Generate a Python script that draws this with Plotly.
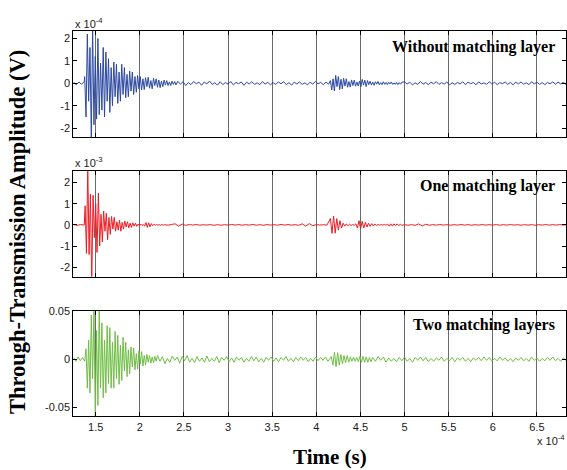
import plotly.graph_objects as go

# ---------------- data (time in units of 1e-4 s) ----------------
# Each series is stored as segments: (start time, sample step, values)
# Blue: without matching layer, amplitude in units of 1e-4 V
blue_pre_start, blue_pre_step = 1.25, 0.03
blue_pre = [0.05, -0.07, 0.06, -0.05, 0.08]
blue_burst_start, blue_burst_step = 1.375, 0.015
blue_burst = [0.3, -1.5, 2.2, -0.8, 1.6, -2.4, 2.5, -1.85, 1.2, -1.6,
              2.0, -1.4, 0.9, -1.2, 1.6, -1.5, 1.4, -0.8, 1.1, -1.3,
              0.7, -1.0, 0.95, -0.6, 0.85, -0.9, 0.5, -0.8, 0.85, -0.5,
              0.7, -0.65, 0.4, -0.6, 0.55, -0.35, 0.5, -0.5, 0.3, -0.4,
              0.35, -0.25, 0.3, -0.3, 0.2, -0.28, 0.25, -0.15, 0.27, -0.22,
              0.12, -0.25, 0.22, -0.1, 0.2, -0.18, 0.15, -0.2, 0.1, -0.15,
              0.14, -0.08, 0.12, -0.1, 0.06, -0.1, 0.09, -0.05, 0.08, -0.07]
blue_mid_start, blue_mid_step = 2.43, 0.03
blue_mid = [0.09, -0.04, 0.07, -0.1, 0.03, -0.06, 0.08, -0.02, 0.05, -0.09,
            0.06, -0.03, 0.1, -0.05, 0.02, -0.08, 0.07, -0.06, 0.03, -0.04,
            0.08, -0.07, 0.04, -0.02, 0.06, -0.09, 0.05, -0.03, 0.07, -0.05,
            0.02, -0.06, 0.08, -0.04, 0.05, -0.07, 0.03, -0.05, 0.06, -0.02,
            0.07, -0.06, 0.03, -0.08, 0.05, -0.03, 0.06, -0.05, 0.02, -0.07,
            0.05, -0.04, 0.08, -0.03, 0.04, -0.06, 0.05, -0.04]
blue_echo_start, blue_echo_step = 4.16, 0.015
blue_echo = [0.12, -0.3, 0.2, -0.34, 0.35, -0.15, 0.3, -0.28, 0.18, -0.25,
             0.22, -0.12, 0.2, -0.18, 0.08, -0.17, 0.15, -0.1, 0.14, -0.13,
             0.06, -0.12, 0.1, -0.15, 0.17, -0.08, 0.14, -0.15, 0.12, -0.06,
             0.09, -0.08, 0.05, -0.09, 0.07, -0.04, 0.08, -0.07, 0.03, -0.06,
             0.07, -0.05, 0.04, -0.06, 0.05, -0.03, 0.06, -0.05, 0.02, -0.05,
             0.04, -0.06, 0.03, -0.04, 0.05]
blue_tail_start, blue_tail_step = 5.0, 0.03
blue_tail = [0.06, -0.03, 0.05, -0.07, 0.02, -0.05, 0.08, -0.04, 0.03, -0.06,
             0.05, -0.02, 0.07, -0.05, 0.03, -0.04, 0.06, -0.07, 0.02, -0.05,
             0.04, -0.03, 0.07, -0.06, 0.05, -0.02, 0.04, -0.07, 0.06, -0.03,
             0.02, -0.05, 0.07, -0.04, 0.05, -0.06, 0.03, -0.02, 0.06, -0.05,
             0.04, -0.07, 0.05, -0.03, 0.06, -0.04, 0.02, -0.06, 0.07, -0.03,
             0.05, -0.05, 0.03, -0.06, 0.04, -0.02, 0.06, -0.04, 0.05, -0.03,
             0.04, -0.05]

# Red: one matching layer, amplitude in units of 1e-3 V
red_pre_start, red_pre_step = 1.25, 0.04
red_pre = [0.01, -0.02, 0.015, -0.01]
red_burst_start, red_burst_step = 1.38, 0.015
red_burst = [0.9, -1.35, 2.8, -1.4, 1.45, -2.8, 1.4, -0.6, 1.0, -1.3,
             1.5, -1.0, 0.5, -0.8, 0.65, -0.3, 0.55, -0.7, 0.35, -0.45,
             0.4, -0.2, 0.35, -0.3, 0.15, -0.25, 0.22, -0.3, 0.12, -0.2,
             0.18, -0.1, 0.15, -0.14, 0.08, -0.12, 0.1, -0.06, 0.08, -0.07,
             0.04, -0.05, 0.04, -0.03, 0.02,
             -0.06, 0.11, -0.12, 0.1, -0.09, 0.06, -0.04,
             0.03, -0.02, 0.02, -0.015, 0.01, -0.02, 0.015, -0.01]
red_mid_start, red_mid_step = 2.28, 0.04
red_mid = [0.01, -0.015, 0.02, 0.05, -0.06, 0.04, -0.02,
           0.015, -0.01, 0.02, -0.015, 0.01, -0.01, 0.015, -0.02, 0.01, -0.015,
           0.01, -0.01, 0.02, -0.01, 0.015, -0.015, 0.01, -0.01, 0.02, -0.015,
           0.01, -0.02, 0.015, -0.01, 0.01, -0.015, 0.02, -0.01, 0.015, -0.01,
           0.01, -0.02,
           0.05, -0.06, 0.06, -0.04,
           0.015, -0.01, 0.01, -0.015]
red_echo_start, red_echo_step = 4.16, 0.018
red_echo = [0.3, -0.4, 0.42, -0.39, 0.3, -0.25, 0.2, -0.15, 0.08, -0.06,
            0.05, -0.04, 0.03, -0.03, 0.02, -0.02, 0.05, -0.15, 0.2, -0.18,
            0.17, -0.15, 0.12, -0.1, 0.08, -0.07, 0.06, -0.05, 0.04, -0.03,
            0.02, -0.015, 0.015, -0.01, 0.015, -0.02, 0.04, -0.06, 0.05, -0.06,
            0.05, -0.04, 0.05, -0.04, 0.03, -0.02]
red_tail_start, red_tail_step = 5.0, 0.04
red_tail = [0.01, -0.015, 0.01, -0.02, 0.045, -0.05, 0.03, -0.015,
            0.01, -0.01, 0.015, -0.01, 0.01, -0.015, 0.01, -0.01, 0.015, -0.01,
            0.01, -0.015, 0.01, -0.01, 0.015, -0.01, 0.01, -0.01, 0.015, -0.015,
            0.01, -0.01, 0.015, -0.01, 0.01, -0.015, 0.01, -0.01, 0.01, -0.015,
            0.01, -0.01, 0.015, -0.01, 0.01, -0.01, 0.015, -0.01, 0.01]

# Green: two matching layers, amplitude in V
green_pre_start, green_pre_step = 1.25, 0.025
green_pre = [0.002, -0.002, 0.0025, -0.0015, 0.002, -0.002]
green_burst_start, green_burst_step = 1.39, 0.015
green_burst = [0.011, -0.03, 0.02, -0.035, 0.046, -0.02, 0.05, -0.06, 0.03, -0.048,
               0.052, -0.03, 0.038, -0.04, 0.02, -0.035, 0.035, -0.025, 0.033, -0.03,
               0.018, -0.03, 0.029, -0.02, 0.025, -0.026, 0.015, -0.022, 0.023, -0.012,
               0.018, -0.018, 0.01, -0.015, 0.013, -0.008, 0.012, -0.011, 0.006, -0.01,
               0.009, -0.005, 0.008, -0.007, 0.004, -0.006, 0.005, -0.003, 0.004, -0.004,
               0.0025, -0.0035, 0.003, -0.002]
green_mid_start, green_mid_step = 2.2, 0.028
green_mid = [0.004, -0.002, 0.003, -0.0045, 0.001, -0.003, 0.0035, -0.001, 0.0025, -0.004,
             0.003, -0.0015, 0.004, -0.003, 0.001, -0.0035, 0.003, -0.002, 0.0015, -0.003,
             0.0035, -0.0025, 0.001, -0.002, 0.003, -0.0035, 0.002, -0.001, 0.003, -0.0025,
             0.0015, -0.003, 0.0025, -0.001, 0.002, -0.003, 0.001, -0.002, 0.003, -0.0015,
             0.0025, -0.0025, 0.001, -0.003, 0.002, -0.001, 0.0025, -0.002, 0.0015, -0.0025,
             0.002, -0.001, 0.003, -0.002, 0.001, -0.0025, 0.002, -0.0015, 0.0025, -0.001,
             0.002, -0.0025, 0.001, -0.002, 0.0025, -0.0015, 0.002, -0.001, 0.0025, -0.002,
             0.0015]
green_echo_start, green_echo_step = 4.17, 0.018
green_echo = [0.003, -0.006, 0.0073, -0.0077, 0.007, -0.006, 0.005, -0.0045, 0.004, -0.0035,
              0.004, -0.003, 0.0025, -0.002, 0.0025, -0.002, 0.002, -0.0025, 0.003, -0.003,
              0.0032, -0.003, 0.0025, -0.003, 0.002, -0.0025, 0.002]
green_tail_start, green_tail_step = 4.67, 0.03
green_tail = [-0.002, 0.003, -0.001, 0.0025, -0.003, 0.0015, -0.002, 0.001, -0.0025, 0.002,
              -0.0015, 0.0025, -0.002, 0.001, -0.003, 0.002, -0.001, 0.0025, -0.0015, 0.002,
              -0.0025, 0.001, -0.002, 0.0015, -0.001, 0.0025, -0.002, 0.001, -0.0015, 0.002,
              -0.0025, 0.0015, -0.001, 0.002, -0.002, 0.001, -0.0025, 0.0015, -0.001, 0.002,
              -0.0015, 0.0025, -0.001, 0.002, -0.002, 0.001, -0.0015, 0.0025, -0.001, 0.0015,
              -0.002, 0.001, -0.0025, 0.0015, -0.001, 0.002, -0.0015, 0.001, -0.002, 0.0025,
              -0.001, 0.0015, -0.002, 0.001, -0.0015, 0.002, -0.001, 0.0025, -0.0015, 0.001,
              -0.002, 0.0015, -0.001]

x_ticks = [1.5, 2, 2.5, 3, 3.5, 4, 4.5, 5, 5.5, 6, 6.5]
x_tick_labels = ["1.5", "2", "2.5", "3", "3.5", "4", "4.5", "5", "5.5", "6", "6.5"]
y12_ticks = [-2, -1, 0, 1, 2]
y12_tick_labels = ["-2", "-1", "0", "1", "2"]
y3_ticks = [-0.05, 0, 0.05]
y3_tick_labels = ["-0.05", "0", "0.05"]
panel_labels = ["Without matching layer", "One matching layer", "Two matching layers"]


def build(segments):
    t, v = [], []
    for start, step, vals in segments:
        for i, val in enumerate(vals):
            t.append(start + step * i)
            v.append(val)
    return t, v


blue_t, blue_v = build([(blue_pre_start, blue_pre_step, blue_pre),
                        (blue_burst_start, blue_burst_step, blue_burst),
                        (blue_mid_start, blue_mid_step, blue_mid),
                        (blue_echo_start, blue_echo_step, blue_echo),
                        (blue_tail_start, blue_tail_step, blue_tail)])
red_t, red_v = build([(red_pre_start, red_pre_step, red_pre),
                      (red_burst_start, red_burst_step, red_burst),
                      (red_mid_start, red_mid_step, red_mid),
                      (red_echo_start, red_echo_step, red_echo),
                      (red_tail_start, red_tail_step, red_tail)])
green_t, green_v = build([(green_pre_start, green_pre_step, green_pre),
                          (green_burst_start, green_burst_step, green_burst),
                          (green_mid_start, green_mid_step, green_mid),
                          (green_echo_start, green_echo_step, green_echo),
                          (green_tail_start, green_tail_step, green_tail)])

W, H = 567, 470


def px(x):
    return x / W


def py(y):
    return 1 - y / H


fig = go.Figure()
fig.add_trace(go.Scatter(x=blue_t, y=blue_v, mode="lines", line=dict(color="#2b48a2", width=1),
                         xaxis="x", yaxis="y", showlegend=False))
fig.add_trace(go.Scatter(x=red_t, y=red_v, mode="lines", line=dict(color="#ee1c24", width=1),
                         xaxis="x2", yaxis="y2", showlegend=False))
fig.add_trace(go.Scatter(x=green_t, y=green_v, mode="lines", line=dict(color="#6fbe44", width=1),
                         xaxis="x3", yaxis="y3", showlegend=False))

tick_font = dict(family="Liberation Sans, Arial, sans-serif", size=11, color="#1a1a1a")
x_dom = [px(73.3), px(566)]
x_range = [1.246, 6.83]
common_x = dict(range=x_range, domain=x_dom, tickvals=x_ticks, ticktext=x_tick_labels,
                showgrid=True, gridcolor="#6a6a6a", gridwidth=1, zeroline=False,
                showline=True, linecolor="black", linewidth=1, mirror="ticks",
                ticks="inside", ticklen=4, tickcolor="black", tickfont=tick_font)
common_y = dict(showgrid=False, zeroline=False, showline=True, linecolor="black", linewidth=1,
                mirror="ticks", ticks="inside", ticklen=4, tickcolor="black", tickfont=tick_font)

fig.update_layout(
    width=W, height=H, margin=dict(l=0, r=0, t=0, b=0),
    paper_bgcolor="white", plot_bgcolor="white",
    xaxis=dict(**common_x, anchor="y", showticklabels=False),
    xaxis2=dict(**common_x, anchor="y2", showticklabels=False),
    xaxis3=dict(**common_x, anchor="y3", showticklabels=True),
    yaxis=dict(**common_y, anchor="x", domain=[py(132.7), py(25)], range=[-2.4, 2.35],
               tickvals=y12_ticks, ticktext=y12_tick_labels),
    yaxis2=dict(**common_y, anchor="x2", domain=[py(274), py(167.3)], range=[-2.44, 2.54],
                tickvals=y12_ticks, ticktext=y12_tick_labels),
    yaxis3=dict(**common_y, anchor="x3", domain=[py(415.7), py(309)], range=[-0.0594, 0.0503],
                tickvals=y3_ticks, ticktext=y3_tick_labels),
)

label_font = dict(family="Liberation Serif, Times New Roman, serif", size=16, color="black")
ann = []
for txt, ypos in zip(panel_labels, [41.7, 182.7, 323.3]):
    ann.append(dict(text="<b>%s</b>" % txt, xref="paper", yref="paper", x=px(557), y=py(ypos),
                    xanchor="right", yanchor="middle", showarrow=False, font=label_font))

exp_font = dict(family="Liberation Sans, Arial, sans-serif", size=11, color="#1a1a1a")
ann.append(dict(text="x 10<sup>-4</sup>", xref="paper", yref="paper", x=px(72.5), y=py(17),
                xanchor="left", yanchor="middle", showarrow=False, font=exp_font))
ann.append(dict(text="x 10<sup>-3</sup>", xref="paper", yref="paper", x=px(72.5), y=py(158),
                xanchor="left", yanchor="middle", showarrow=False, font=exp_font))
ann.append(dict(text="x 10<sup>-4</sup>", xref="paper", yref="paper", x=px(567), y=py(440),
                xanchor="right", yanchor="middle", showarrow=False, font=exp_font))

title_font = dict(family="Liberation Serif, Times New Roman, serif", size=22.5, color="black")
ann.append(dict(text="<b>Through-Transmission Amplitude (V)</b>", xref="paper", yref="paper",
                x=px(17), y=py(229), xanchor="center", yanchor="middle", textangle=-90,
                showarrow=False, font=title_font))
ann.append(dict(text="<b>Time (s)</b>", xref="paper", yref="paper", x=px(330), y=py(457),
                xanchor="center", yanchor="middle", showarrow=False,
                font=dict(family="Liberation Serif, Times New Roman, serif", size=21, color="black")))
fig.update_layout(annotations=ann)

fig.write_html("out.html")
